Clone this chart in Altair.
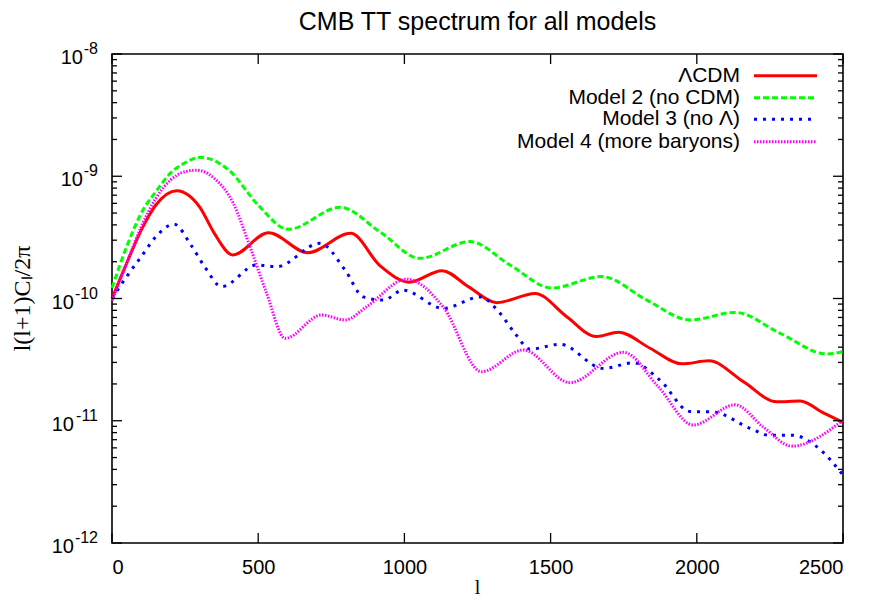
import altair as alt
import pandas as pd

# ---------------- data ----------------
series_names = ["ΛCDM", "Model 2 (no CDM)", "Model 3 (no Λ)", "Model 4 (more baryons)"]
series_colors = ["#ff0000", "#00ff00", "#0000ff", "#ff00ff"]

lcdm_l = [0, 50, 100, 150, 221, 300, 350, 413, 535, 670, 816, 917, 1017, 1128, 1221,
          1316, 1447, 1555, 1656, 1732, 1840, 1949, 2042, 2159, 2273, 2353, 2433, 2500]
lcdm_v = [1.0e-10, 1.94e-10, 3.63e-10, 5.82e-10, 7.62e-10, 5.6e-10, 3.41e-10, 2.27e-10,
          3.45e-10, 2.37e-10, 3.41e-10, 1.85e-10, 1.36e-10, 1.69e-10, 1.24e-10,
          9.25e-11, 1.10e-10, 7.1e-11, 4.88e-11, 5.3e-11, 3.92e-11, 2.92e-11, 3.09e-11,
          2.09e-11, 1.43e-11, 1.45e-11, 1.16e-11, 9.7e-12]

model2_l = [0, 50, 100, 150, 200, 250, 301, 400, 500, 603, 780, 917, 1053, 1224, 1361,
            1504, 1675, 1829, 1977, 2131, 2285, 2444, 2500]
model2_v = [1.22e-10, 2.65e-10, 4.98e-10, 7.48e-10, 1.06e-9, 1.29e-9, 1.43e-9, 1.12e-9,
            5.8e-10, 3.68e-10, 5.57e-10, 3.5e-10, 2.13e-10, 2.92e-10, 1.88e-10,
            1.22e-10, 1.51e-10, 9.7e-11, 6.67e-11, 7.7e-11, 5.19e-11, 3.52e-11, 3.67e-11]

model3_l = [0, 50, 100, 150, 212, 270, 320, 375, 495, 563, 711, 797, 859, 928, 995,
            1133, 1259, 1327, 1378, 1430, 1532, 1680, 1783, 1874, 1977, 2055, 2182,
            2250, 2330, 2410, 2500]
model3_v = [1.0e-10, 1.51e-10, 2.2e-10, 3.2e-10, 4.06e-10, 2.74e-10, 1.77e-10, 1.25e-10,
            1.88e-10, 1.82e-10, 2.83e-10, 1.71e-10, 1.03e-10, 9.7e-11, 1.17e-10,
            8.3e-11, 1.03e-10, 7.57e-11, 5.19e-11, 3.85e-11, 4.22e-11, 2.68e-11,
            2.98e-11, 2.15e-11, 1.19e-11, 1.18e-11, 8.67e-12, 7.6e-12, 7.6e-12,
            6.14e-12, 3.6e-12]

model4_l = [0, 50, 100, 150, 200, 250, 290, 350, 415, 472, 529, 592, 717, 797, 871,
            1008, 1132, 1264, 1407, 1566, 1749, 1868, 1988, 2131, 2227, 2325, 2500]
model4_v = [9.6e-11, 1.94e-10, 3.86e-10, 6.6e-10, 9.3e-10, 1.09e-9, 1.12e-9, 9.6e-10,
            6.0e-10, 2.65e-10, 1.1e-10, 4.72e-11, 7.33e-11, 6.67e-11, 8.57e-11,
            1.44e-10, 8.57e-11, 2.52e-11, 3.79e-11, 2.05e-11, 3.63e-11, 1.9e-11,
            9.23e-12, 1.35e-11, 8.9e-12, 6.2e-12, 1.01e-11]

x_tick_values = [0, 500, 1000, 1500, 2000, 2500]
y_decade_exponents = [-8, -9, -10, -11, -12]
y_minor_multipliers = [2, 3, 4, 5, 6, 7, 8, 9]

title_text = "CMB TT spectrum for all models"
x_title = "l"
y_title = "l(l+1)Cₗ/2π"

# ---------------- layout ----------------
W, H = 731, 489
SANS = "Liberation Sans"
SERIF = "Liberation Serif"

dashes = [None, [6, 3], [3, 6], [1.5, 1.5]]

series_data = [lcdm_l, model2_l, model3_l, model4_l]
series_vals = [lcdm_v, model2_v, model3_v, model4_v]

X = alt.X("l:Q", scale=alt.Scale(domain=[0, 2500], nice=False, zero=False),
          axis=alt.Axis(values=x_tick_values, ticks=False, tickSize=0, domain=False,
                        grid=False, labelFontSize=20, labelFont=SANS, labelColor="black",
                        labelPadding=14, title=None, format="d"))
Y = alt.Y("v:Q", scale=alt.Scale(type="log", domain=[1e-12, 1e-8], nice=False),
          axis=None)

layers = []
for name, color, dash, ls, vs in zip(series_names, series_colors, dashes, series_data, series_vals):
    df = pd.DataFrame({"l": ls, "v": vs, "series": name})
    kw = dict(color=color, strokeWidth=3, interpolate="monotone", strokeCap="butt")
    if dash is not None:
        kw["strokeDash"] = dash
    layers.append(alt.Chart(df).mark_line(**kw).encode(x=X, y=Y, order="l:Q"))

# ---------------- ticks (inward, mirrored) ----------------
xt = pd.DataFrame({"l": x_tick_values})
tick_style = dict(color="black", strokeWidth=1.3)
layers.append(alt.Chart(xt).mark_rule(**tick_style).encode(x=X, y=alt.value(H), y2=alt.value(H - 10)))
layers.append(alt.Chart(xt).mark_rule(**tick_style).encode(x=X, y=alt.value(0), y2=alt.value(10)))

ymaj = pd.DataFrame({"v": [10.0 ** e for e in y_decade_exponents]})
ymin = pd.DataFrame({"v": [m * 10.0 ** e for e in range(-12, -8) for m in y_minor_multipliers]})
for dfr, ln in [(ymaj, 10), (ymin, 5)]:
    layers.append(alt.Chart(dfr).mark_rule(**tick_style).encode(y=Y, x=alt.value(0), x2=alt.value(ln)))
    layers.append(alt.Chart(dfr).mark_rule(**tick_style).encode(y=Y, x=alt.value(W), x2=alt.value(W - ln)))

# ---------------- y tick labels 10^{e} ----------------
ylab = pd.DataFrame({"v": [10.0 ** e for e in y_decade_exponents],
                     "exp": [str(e) for e in y_decade_exponents],
                     "base": ["10"] * len(y_decade_exponents)})
layers.append(alt.Chart(ylab).mark_text(align="right", baseline="alphabetic", font=SANS,
                                        fontSize=16, color="black")
              .encode(y=Y, x=alt.value(-14), text="exp:N"))
layers.append(alt.Chart(ylab).transform_filter("length(datum.exp) == 3")
              .mark_text(align="right", baseline="alphabetic", font=SANS, fontSize=20,
                         color="black", dy=10)
              .encode(y=Y, x=alt.value(-38), text="base:N"))
layers.append(alt.Chart(ylab).transform_filter("length(datum.exp) == 2")
              .mark_text(align="right", baseline="alphabetic", font=SANS, fontSize=20,
                         color="black", dy=10)
              .encode(y=Y, x=alt.value(-29), text="base:N"))

# ---------------- titles ----------------
layers.append(alt.Chart(pd.DataFrame({"t": [title_text]})).mark_text(
    align="center", baseline="alphabetic", font=SANS, fontSize=25, color="black")
    .encode(text="t:N", x=alt.value(W / 2), y=alt.value(-24)))
layers.append(alt.Chart(pd.DataFrame({"t": [x_title]})).mark_text(
    align="center", baseline="alphabetic", font=SERIF, fontSize=20, color="black")
    .encode(text="t:N", x=alt.value(W / 2), y=alt.value(540)))
layers.append(alt.Chart(pd.DataFrame({"t": [y_title]})).mark_text(
    align="center", baseline="middle", font=SERIF, fontSize=24, color="black", angle=270)
    .encode(text="t:N", x=alt.value(-89), y=alt.value(H / 2)))

# ---------------- legend (text left of sample line, gnuplot style) ----------------
leg_y = [21.7, 43.7, 65.3, 87.7]
for name, color, dash, yy in zip(series_names, series_colors, dashes, leg_y):
    ldf = pd.DataFrame({"series": [name]})
    layers.append(alt.Chart(ldf).mark_text(align="right", baseline="middle", font=SANS,
                                           fontSize=21, color="black")
                  .encode(text="series:N", x=alt.value(628), y=alt.value(yy)))
    kw = dict(color=color, strokeWidth=3, strokeCap="butt")
    if dash is not None:
        kw["strokeDash"] = dash
    layers.append(alt.Chart(ldf).mark_rule(**kw)
                  .encode(x=alt.value(642), x2=alt.value(705), y=alt.value(yy)))

chart = alt.layer(*layers).properties(
    width=W, height=H,
    padding={"left": 104, "top": 46, "right": 22, "bottom": 56},
    autosize=alt.AutoSizeParams(type="none"),
    background="white",
).configure_view(stroke="black", strokeWidth=1.6)

chart.save("out.html", embed_options={"renderer": "svg", "actions": False})
